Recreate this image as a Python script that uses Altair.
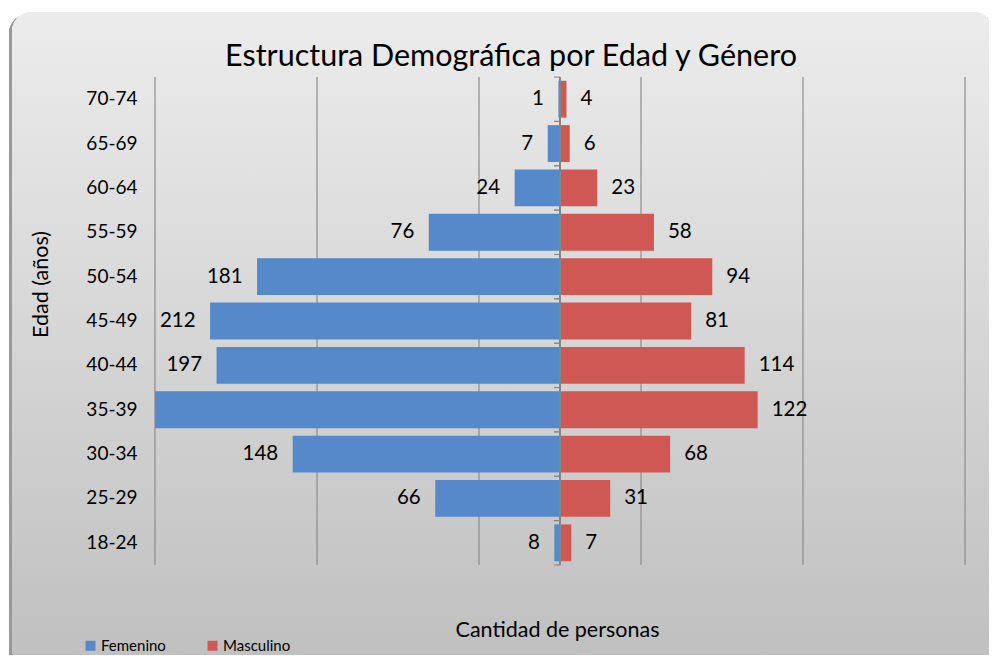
import altair as alt
import pandas as pd

ages = ["18-24", "25-29", "30-34", "35-39", "40-44", "45-49", "50-54", "55-59", "60-64", "65-69", "70-74"]
# female bar lengths as drawn, and female data labels as printed
femenino_barra = [3.5, 77, 165, 250, 212, 216, 187, 81, 28, 7.6, 1]
femenino_etiqueta = [8, 66, 148, None, 197, 212, 181, 76, 24, 7, 1]
masculino = [7, 31, 68, 122, 114, 81, 94, 58, 23, 6, 4]
grid_values = [-250, -150, -50, 50, 150, 250]
series = ["Femenino", "Masculino"]
colors = ["#5589CA", "#CF5855"]

FONT = "Lato"
XT = "Cantidad de personas"
YT = "Edad (años)"
order = list(reversed(ages))

rows = []
for a, fb, fl, m in zip(ages, femenino_barra, femenino_etiqueta, masculino):
    rows.append({"age": a, "sex": "Femenino", "v": -fb, "n": fl})
    rows.append({"age": a, "sex": "Masculino", "v": m, "n": m})
df = pd.DataFrame(rows)
grid_df = pd.DataFrame({"v": grid_values})
age_df = pd.DataFrame({"age": ages})

xaxis = alt.Axis(zindex=1, labels=False, ticks=False, domain=False, grid=False,
                 titleFont=FONT, titleFontSize=21.5, titleFontWeight="normal", titleColor="#000000",
                 titleX=402, titleY=65, titleBaseline="middle", titleAlign="center")
yaxis = alt.Axis(zindex=1, ticks=False, tickSize=0, domain=False, grid=False, labelPadding=18,
                 labelFont=FONT, labelFontSize=19, labelColor="#000000",
                 titleFont=FONT, titleFontSize=21.5, titleFontWeight="normal", titleColor="#000000",
                 titleX=-114, titleY=207, titleBaseline="middle", titleAlign="center", titleAngle=270)
yscale = alt.Scale(paddingInner=0.17, paddingOuter=0.085)
yenc = alt.Y("age:N", sort=order, title=YT, scale=yscale, axis=yaxis)

shadow = alt.Chart(age_df).mark_rect(color="#9a9a9a", opacity=0.6, cornerRadius=20).encode(
    x=alt.value(-146), x2=alt.value(840), y=alt.value(-63), y2=alt.value(594)
)
bg = alt.Chart(age_df).mark_rect(
    cornerRadius=20,
    color=alt.Gradient(gradient="linear",
                       stops=[alt.GradientStop(color="#ECECEC", offset=0),
                              alt.GradientStop(color="#BFBFBF", offset=1)],
                       x1=0, x2=0, y1=0, y2=1),
).encode(x=alt.value(-143), x2=alt.value(838), y=alt.value(-65), y2=alt.value(591))

grid = alt.Chart(grid_df).mark_rule(color="#8C8C8C", strokeWidth=1.2).encode(
    x=alt.X("v:Q", title=XT, axis=xaxis)
)

bars = alt.Chart(df).mark_bar(clip=True).encode(
    x=alt.X("v:Q", title=XT, axis=xaxis,
            scale=alt.Scale(domain=[-250, 250], nice=False, zero=False)),
    y=yenc,
    color=alt.Color("sex:N", scale=alt.Scale(domain=series, range=colors),
                    legend=alt.Legend(orient="none", legendX=-72, legendY=561, direction="horizontal",
                                      title=None, symbolType="square", symbolSize=100,
                                      symbolStrokeWidth=0, labelFontSize=15, labelFont=FONT,
                                      labelColor="#000000", labelOffset=3, columnPadding=39,
                                      padding=0, zindex=1)),
)

zero = alt.Chart(age_df).mark_rule(color="#868686", strokeWidth=1.2).encode(
    x=alt.XDatum(0, title=XT, axis=xaxis)
)
ticks_top = alt.Chart(age_df).mark_rule(color="#868686", strokeWidth=1, xOffset=-6, yOffset=-3.7).encode(
    x=alt.XDatum(0, title=XT, axis=xaxis), x2=alt.X2Datum(0),
    y=alt.Y("age:N", sort=order, title=YT, scale=yscale, axis=yaxis, bandPosition=0),
)
ticks_bot = alt.Chart(age_df).mark_rule(color="#868686", strokeWidth=1, xOffset=-6, yOffset=3.7).encode(
    x=alt.XDatum(0, title=XT, axis=xaxis), x2=alt.X2Datum(0),
    y=alt.Y("age:N", sort=order, title=YT, scale=yscale, axis=yaxis, bandPosition=1),
)

lab_f = alt.Chart(df).transform_filter(
    (alt.datum.sex == "Femenino") & alt.expr.isValid(alt.datum.n)
).mark_text(align="right", dx=-14.5, fontSize=20.5, font=FONT, color="#000000", baseline="middle").encode(
    x=alt.X("v:Q", title=XT, axis=xaxis), y=yenc, text="n:Q"
)
lab_m = alt.Chart(df).transform_filter(
    alt.datum.sex == "Masculino"
).mark_text(align="left", dx=14, fontSize=20.5, font=FONT, color="#000000", baseline="middle").encode(
    x=alt.X("v:Q", title=XT, axis=xaxis), y=yenc, text="n:Q"
)

chart = alt.layer(shadow, bg, grid, bars, zero, ticks_top, ticks_bot, lab_f, lab_m).properties(
    width=810, height=488,
    autosize=alt.AutoSizeParams(type="none"),
    padding={"left": 147, "top": 69, "right": 24, "bottom": 90},
    title=alt.TitleParams("Estructura Demográfica por Edad y Género", fontSize=30.5, font=FONT,
                          fontWeight="normal", color="#000000", anchor="middle", dx=-49, dy=64,
                          zindex=1),
).configure_view(stroke=None).configure(background="#FFFFFF")

chart.save("out.html", embed_options={"renderer": "svg", "actions": False})
